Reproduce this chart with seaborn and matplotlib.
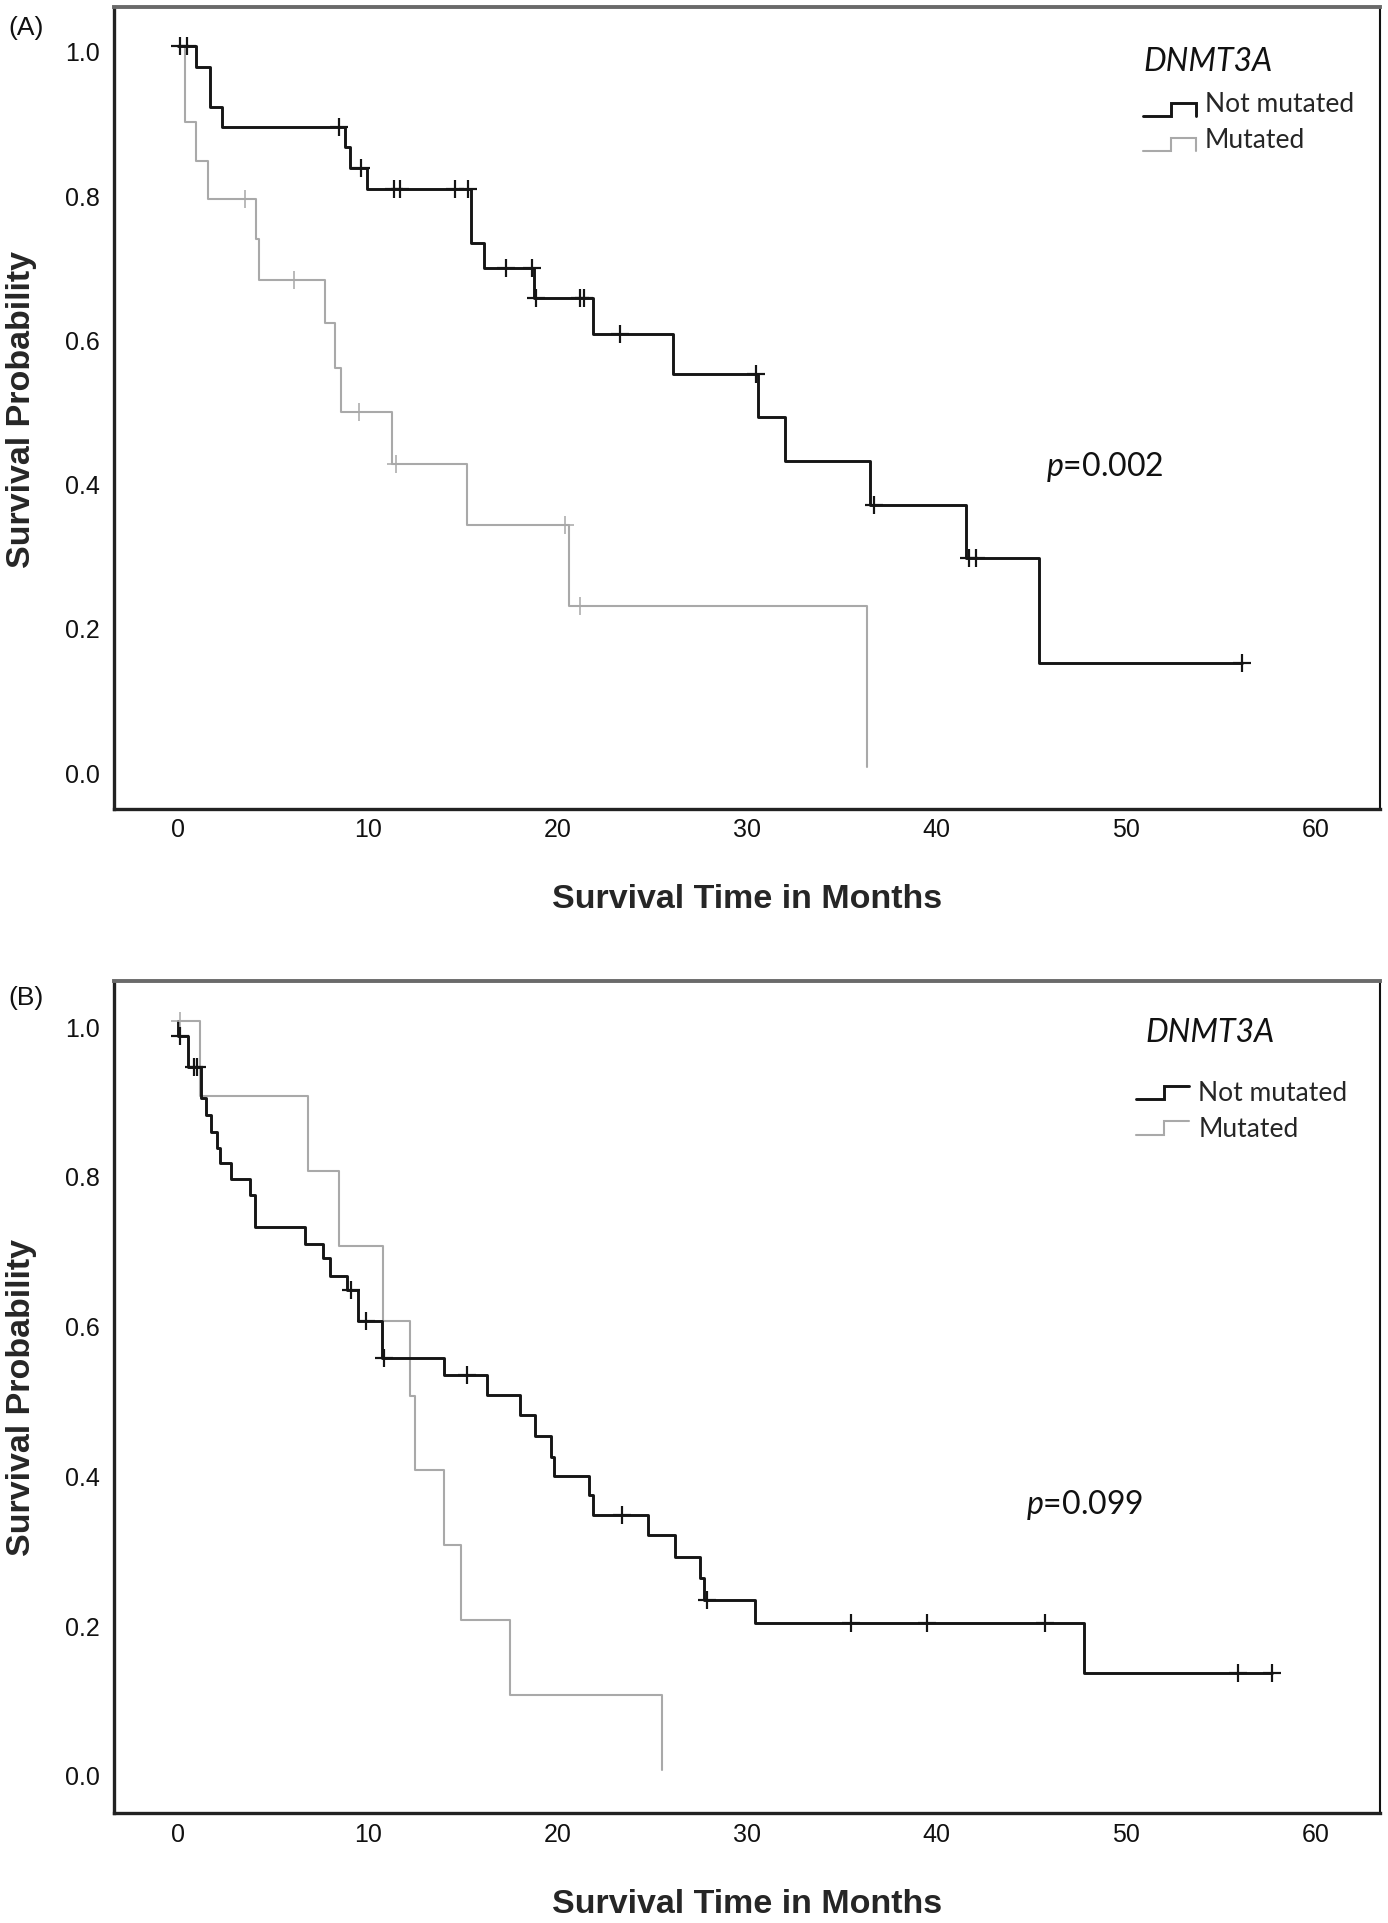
import numpy as np
import pandas as pd
import matplotlib
matplotlib.use("Agg")
import matplotlib.pyplot as plt
import matplotlib.transforms as mtransforms
import seaborn as sns
from matplotlib.legend_handler import HandlerBase
from matplotlib.lines import Line2D

# ---------------- data ----------------
groups = ["Not mutated", "Mutated"]
x_ticks = [0, 10, 20, 30, 40, 50, 60]
y_ticks = [0.0, 0.2, 0.4, 0.6, 0.8, 1.0]
p_values = ["0.002", "0.099"]
panel_tags = ["(A)", "(B)"]

# Panel A
A_not_times = [0.95, 1.65, 2.3, 8.8, 9.05, 9.95, 15.45, 16.1, 18.75, 21.85, 26.1,
               30.6, 32.0, 36.5, 41.55, 45.4]
A_not_surv = [0.971, 0.915, 0.888, 0.860, 0.831, 0.801, 0.727, 0.692, 0.650, 0.600,
              0.545, 0.485, 0.424, 0.363, 0.290, 0.144]
A_not_censor = [0.1, 0.45, 8.45, 9.65, 11.35, 11.7, 14.6, 15.3, 17.3, 18.65, 18.85,
                21.2, 21.4, 23.3, 30.45, 36.7, 41.7, 42.1, 56.1]
A_not_end = 56.1

A_mut_times = [0.35, 0.95, 1.55, 4.1, 4.25, 7.75, 8.25, 8.6, 11.25, 15.2, 20.6, 36.35]
A_mut_surv = [0.894, 0.840, 0.788, 0.733, 0.676, 0.616, 0.553, 0.492, 0.420, 0.336,
              0.224, 0.0]
A_mut_censor = [3.5, 6.1, 9.55, 11.5, 20.4, 21.2]
A_mut_end = 36.35

# Panel B
B_not_times = [0.0, 0.5, 1.2, 1.45, 1.7, 2.05, 2.2, 2.75, 3.8, 4.05, 6.7, 7.65, 8.0,
               8.9, 9.5, 10.75, 14.0, 16.3, 18.0, 18.8, 19.65, 19.8, 21.65, 21.9,
               24.8, 26.2, 27.5, 27.75, 30.4, 47.8]
B_not_surv = [0.98, 0.939, 0.897, 0.875, 0.852, 0.831, 0.810, 0.789, 0.768, 0.725,
              0.703, 0.683, 0.659, 0.641, 0.600, 0.550, 0.527, 0.501, 0.474, 0.446,
              0.418, 0.393, 0.367, 0.340, 0.314, 0.284, 0.256, 0.227, 0.196, 0.129]
B_not_censor = [0.1, 0.8, 1.0, 9.1, 9.9, 10.85, 15.2, 23.4, 27.9, 35.5, 39.5, 45.7,
                55.9, 57.7]
B_not_end = 57.7

B_mut_times = [1.16, 6.85, 8.45, 10.8, 12.2, 12.5, 14.0, 14.9, 17.5, 25.5]
B_mut_surv = [0.9, 0.8, 0.7, 0.6, 0.5, 0.4, 0.3, 0.2, 0.1, 0.0]
B_mut_censor = [0.1]
B_mut_end = 25.5

# ---------------- style ----------------
sns.set_theme(style="white")
plt.rcParams["font.family"] = ["Liberation Sans", "DejaVu Sans"]
plt.rcParams["mathtext.fontset"] = "custom"
plt.rcParams["mathtext.it"] = "Lato:italic"
plt.rcParams["mathtext.rm"] = "Lato"

BLACK = "#151515"
GRAY = "#a9a9a9"
LW_BLACK = 2.1
LW_GRAY = 1.5
LEG_FONT = "Lato"


def km_frame(times, surv, end, start=1.0):
    x = np.r_[0.0, times, end]
    y = np.r_[start, surv, surv[-1]]
    return pd.DataFrame({"t": x, "s": y})


def surv_at(tc, times, surv, start=1.0):
    times = np.asarray(times)
    surv = np.asarray(surv)
    idx = np.searchsorted(times, tc, side="right") - 1
    return np.where(idx < 0, start, surv[np.clip(idx, 0, None)])


class StepHandler(HandlerBase):
    def __init__(self, low, high, drop):
        super().__init__()
        self.low, self.high, self.drop = low, high, drop

    def create_artists(self, legend, orig_handle, xdescent, ydescent, width,
                       height, fontsize, trans):
        x0 = -xdescent
        xm = x0 + 0.52 * width
        x1 = x0 + width
        yl = self.low * fontsize
        yh = self.high * fontsize
        xs = [x0, xm, xm, x1]
        ys = [yl, yl, yh, yh]
        if self.drop:
            xs.append(x1)
            ys.append(yl)
        ln = Line2D(xs, ys, color=orig_handle.get_color(),
                    lw=orig_handle.get_linewidth(), transform=trans,
                    solid_joinstyle="miter")
        return [ln]


fig = plt.figure(figsize=(13.88, 19.24), dpi=100)
W, H = 1388.0, 1924.0
axA = fig.add_axes([114 / W, 1 - 810 / H, 1266 / W, 802 / H])
axB = fig.add_axes([114 / W, 1 - 1814.3 / H, 1266 / W, 832.6 / H])

panels = [
    (axA, (A_not_times, A_not_surv, A_not_censor, A_not_end, 1.0),
     (A_mut_times, A_mut_surv, A_mut_censor, A_mut_end, 1.0),
     dict(p_xy=(45.8, 0.405), title_xy=(50.9, 0.966), leg_xy=(50.9, 0.937),
          low=-0.17, high=0.33, drop=True, xlab_y=-90 / 802)),
    (axB, (B_not_times, B_not_surv, B_not_censor, B_not_end, 1.0),
     (B_mut_times, B_mut_surv, B_mut_censor, B_mut_end, 1.0),
     dict(p_xy=(44.7, 0.343), title_xy=(51.0, 0.974), leg_xy=(50.55, 0.921),
          low=0.04, high=0.55, drop=False, xlab_y=-90 / 832.6)),
]

ylab_shift = mtransforms.ScaledTranslation(0, -5 / 100.0, fig.dpi_scale_trans)

for i, (ax, black, gray, cfg) in enumerate(panels):
    handles = []
    for (times, surv, cens, end, start), col, lw, z in [
        (gray, GRAY, LW_GRAY, 2), (black, BLACK, LW_BLACK, 3)
    ]:
        df = km_frame(times, surv, end, start)
        sns.lineplot(data=df, x="t", y="s", color=col, lw=lw, estimator=None,
                     sort=False, drawstyle="steps-post", ax=ax, legend=False,
                     zorder=z)
        handles.append(ax.lines[-1])
        cy = surv_at(cens, times, surv, start)
        sns.scatterplot(x=np.asarray(cens), y=cy, marker="+", s=160, color=col,
                        linewidth=lw * 0.75, ax=ax, legend=False, zorder=z + 2)

    ax.set_xlim(-3.4, 63.4)
    ax.set_ylim(-0.058, 1.054)
    ax.set_xticks(x_ticks)
    ax.set_xticklabels([str(v) for v in x_ticks])
    ax.set_yticks(y_ticks)
    ax.set_yticklabels([f"{v:.1f}" for v in y_ticks])
    ax.tick_params(axis="both", length=0, labelsize=18, colors="#111111")
    ax.tick_params(axis="x", pad=6)
    ax.tick_params(axis="y", pad=10)
    for tk in ax.yaxis.get_major_ticks():
        tk.label1.set_transform(tk.label1.get_transform() + ylab_shift)

    ax.set_xlabel("Survival Time in Months", fontsize=24.5, fontweight="bold",
                  va="center")
    ax.xaxis.set_label_coords(0.5, cfg["xlab_y"])
    ax.set_ylabel("Survival Probability", fontsize=24.5, fontweight="bold",
                  va="center")
    ax.yaxis.set_label_coords(-0.0727, 0.5)

    for side, col, lw in [("top", "#6a6a6a", 2.8), ("left", "#222222", 2.4),
                          ("bottom", "#222222", 2.4), ("right", "#111111", 1.5)]:
        ax.spines[side].set_visible(True)
        ax.spines[side].set_color(col)
        ax.spines[side].set_linewidth(lw)
    ax.grid(False)

    # p value
    ax.text(cfg["p_xy"][0], cfg["p_xy"][1], f"$p$=" + p_values[i],
            fontsize=23, family=LEG_FONT, va="baseline", ha="left", color="#111111")
    # legend title
    ax.text(cfg["title_xy"][0], cfg["title_xy"][1], "DNMT3A", fontsize=23,
            family=LEG_FONT, style="italic", va="baseline", ha="left",
            color="#111111")
    hmap = {h: StepHandler(cfg["low"], cfg["high"], cfg["drop"]) for h in handles}
    ax.legend(handles=[handles[1], handles[0]], labels=groups,
              handler_map=hmap, loc="upper left",
              bbox_to_anchor=cfg["leg_xy"], bbox_transform=ax.transData,
              frameon=False, borderpad=0, borderaxespad=0,
              handlelength=2.0, handletextpad=0.35, labelspacing=0.4,
              prop={"family": LEG_FONT, "size": 19})

    fig.text(26 / W, 1 - (28 + 970 * i) / H, panel_tags[i], fontsize=19,
             ha="center", va="center", color="#111111")

fig.savefig("out.png", dpi=100)
